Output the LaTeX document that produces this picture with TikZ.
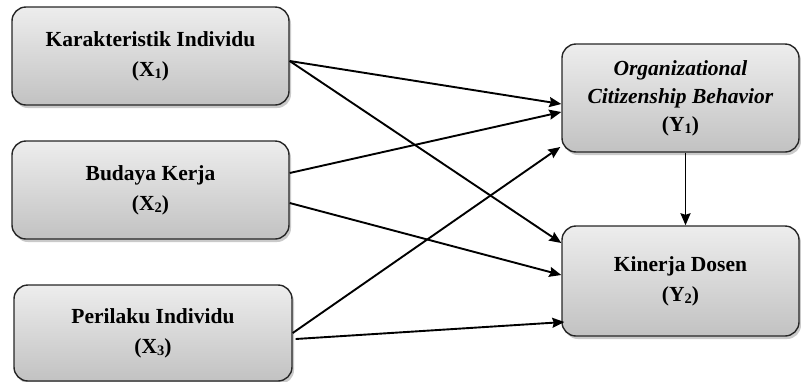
\documentclass[tikz,border=0pt]{standalone}
\usepackage{fontspec}
\setmainfont{Liberation Serif}
\usetikzlibrary{arrows.meta,shadows,calc}
\newcommand{\sbs}[1]{\raisebox{-0.12em}{\fontsize{14.5}{14.5}\selectfont #1}}
\begin{document}
\begin{tikzpicture}[x=1pt,y=-1pt,
  varbox/.style={draw=black!85, line width=1.4pt, rounded corners=14pt,
    top color=black!7, bottom color=black!24, align=center,
    inner sep=0pt, font=\fontsize{21.5}{30}\selectfont\bfseries,
    drop shadow={shadow xshift=2pt, shadow yshift=-3pt, opacity=0.35, fill=black!60}},
  link/.style={line width=1.9pt, -{Stealth[length=12pt,width=10pt,inset=1.5pt]}}
  ]
\useasboundingbox (0,0) rectangle (801,381);
\node[varbox, minimum width=277pt, minimum height=98pt] (x1) at (150.5,56)
  {Karakteristik Individu\\(X\sbs{1})};
\node[varbox, minimum width=277pt, minimum height=98pt] (x2) at (150.5,190)
  {Budaya Kerja\\(X\sbs{2})};
\node[varbox, minimum width=278pt, minimum height=96pt] (x3) at (153,333)
  {Perilaku Individu\\(X\sbs{3})};
\node[varbox, minimum width=237pt, minimum height=108pt,
  font=\fontsize{21.5}{28}\selectfont\bfseries] (y1) at (680.5,98)
  {\textit{Organizational}\\\textit{Citizenship Behavior}\\(Y\sbs{1})};
\node[varbox, minimum width=237pt, minimum height=110pt] (y2) at (680.5,281)
  {Kinerja Dosen\\(Y\sbs{2})};

\draw[link] ([yshift=-5pt]x1.east) -- ([yshift=-6pt]y1.west);
\draw[link] ([yshift=-5pt]x1.east) -- ([yshift=38pt]y2.west);
\draw[link] ([yshift=17pt]x2.east) -- ([yshift=-14pt]y1.west);
\draw[link] ([yshift=-13pt]x2.east) -- ([yshift=6pt]y2.west);
\draw[link] (x3.east) -- ([xshift=-1pt,yshift=-49pt]y1.west);
\draw[link] ([xshift=3pt,yshift=-6pt]x3.east) -- ([xshift=3pt,yshift=-41pt]y2.west);
\draw[link] ([xshift=5pt]y1.south) -- ([xshift=5pt]y2.north);
\end{tikzpicture}
\end{document}
